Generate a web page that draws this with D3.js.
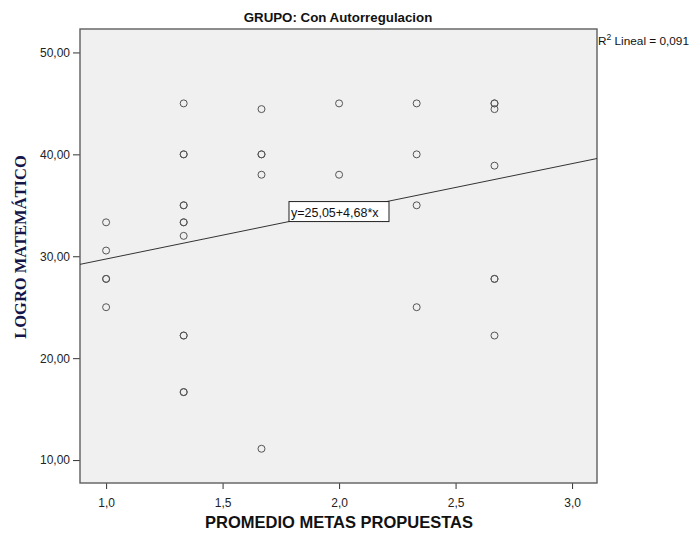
<!DOCTYPE html>
<html>
<head>
<meta charset="utf-8">
<script src="https://cdn.jsdelivr.net/npm/d3@7"></script>
<style>
  html, body { margin: 0; padding: 0; background: #fff; }
  svg { display: block; font-family: "Liberation Sans", Arial, sans-serif; }
</style>
</head>
<body>
<svg id="chart" width="689" height="534"></svg>
<script>
// Datos (puntos repetidos = casos superpuestos)
const metas = [
  1, 1, 1, 1, 1,
  1.333, 1.333, 1.333, 1.333, 1.333, 1.333, 1.333, 1.333, 1.333, 1.333, 1.333, 1.333,
  1.667, 1.667, 1.667, 1.667, 1.667,
  2, 2,
  2.333, 2.333, 2.333, 2.333,
  2.667, 2.667, 2.667, 2.667, 2.667, 2.667, 2.667
];
const logro = [
  33.33, 30.56, 27.78, 27.78, 25,
  45, 40, 40, 35, 35, 33.33, 33.33, 32, 22.22, 22.22, 16.67, 16.67,
  44.44, 40, 40, 38, 11.11,
  45, 38,
  45, 40, 35, 25,
  45, 45, 44.44, 38.89, 27.78, 27.78, 22.22
];
const intercept = 25.05, slope = 4.68;
const r2Text = "0,091";
const xTicks = [1, 1.5, 2, 2.5, 3];
const yTicks = [10, 20, 30, 40, 50];

const svg = d3.select('#chart');
const plot = { left: 80, top: 29, right: 597, bottom: 483 };

const x = d3.scaleLinear().domain([0.888, 3.107]).range([plot.left, plot.right]);
const y = d3.scaleLinear().domain([7.75, 52.3]).range([plot.bottom, plot.top]);
const comma = f => v => d3.format(f)(v).replace('.', ',');

// Fondo del area de datos
svg.append('rect')
  .attr('x', plot.left).attr('y', plot.top)
  .attr('width', plot.right - plot.left).attr('height', plot.bottom - plot.top)
  .attr('fill', '#f0f0f0');

// Ejes
const xAxis = svg.append('g')
  .attr('transform', `translate(0,${plot.bottom})`)
  .call(d3.axisBottom(x).tickValues(xTicks).tickFormat(comma('.1f')).tickSize(6).tickSizeOuter(0));
const yAxis = svg.append('g')
  .attr('transform', `translate(${plot.left},0)`)
  .call(d3.axisLeft(y).tickValues(yTicks).tickFormat(comma('.2f')).tickSize(7).tickSizeOuter(0));
[xAxis, yAxis].forEach(g => {
  g.select('.domain').remove();
  g.selectAll('line').attr('stroke', '#333');
  g.selectAll('text').attr('fill', '#222').attr('font-size', 12)
    .attr('font-family', '"Liberation Sans", Arial, sans-serif');
});
xAxis.selectAll('text').attr('dy', '1.25em');

// Marco
svg.append('rect')
  .attr('x', plot.left).attr('y', plot.top)
  .attr('width', plot.right - plot.left).attr('height', plot.bottom - plot.top)
  .attr('fill', 'none').attr('stroke', '#5e5e5e').attr('stroke-width', 1.4);

// Linea de ajuste
const [x0, x1] = x.domain();
svg.append('line')
  .attr('x1', x(x0)).attr('y1', y(intercept + slope * x0))
  .attr('x2', x(x1)).attr('y2', y(intercept + slope * x1))
  .attr('stroke', '#333').attr('stroke-width', 1);

// Puntos
svg.append('g').selectAll('circle')
  .data(metas.map((m, i) => [m, logro[i]]))
  .join('circle')
  .attr('cx', d => x(d[0])).attr('cy', d => y(d[1]))
  .attr('r', 3.5)
  .attr('fill', 'none').attr('stroke', '#555').attr('stroke-width', 1);

// Etiqueta de la ecuacion
const ex = 1.785, ey = intercept + slope * ex;
const eq = svg.append('g').attr('transform', `translate(${x(ex)},${y(ey)})`);
eq.append('rect').attr('x', 0).attr('y', -20).attr('width', 100).attr('height', 20)
  .attr('fill', '#fff').attr('stroke', '#222').attr('stroke-width', 1);
eq.append('text').attr('x', 2).attr('y', -5).attr('font-size', 12.5).attr('fill', '#111')
  .text(`y=${comma('.2f')(intercept)}+${comma('.2f')(slope)}*x`);

// Titulo
svg.append('text')
  .attr('x', 338).attr('y', 22)
  .attr('text-anchor', 'middle').attr('font-weight', 'bold').attr('font-size', 13.3)
  .attr('fill', '#111').text('GRUPO: Con Autorregulacion');

// R2
const r2 = svg.append('text').attr('x', plot.right + 1).attr('y', 45)
  .attr('font-size', 11.8).attr('fill', '#111');
r2.append('tspan').text('R');
r2.append('tspan').attr('dy', -5).attr('font-size', 8.5).text('2');
r2.append('tspan').attr('dy', 5).text(` Lineal = ${r2Text}`);

// Titulos de ejes
svg.append('text')
  .attr('x', 339).attr('y', 528)
  .attr('text-anchor', 'middle').attr('font-weight', 'bold').attr('font-size', 16.5)
  .attr('fill', '#111').text('PROMEDIO METAS PROPUESTAS');

svg.append('text')
  .attr('transform', 'translate(26,247) rotate(-90)')
  .attr('text-anchor', 'middle').attr('font-weight', 'bold').attr('font-size', 16.5)
  .attr('font-family', '"Liberation Serif", "Times New Roman", serif')
  .attr('fill', '#15154a').text('LOGRO MATEMÁTICO');
</script>
</body>
</html>
